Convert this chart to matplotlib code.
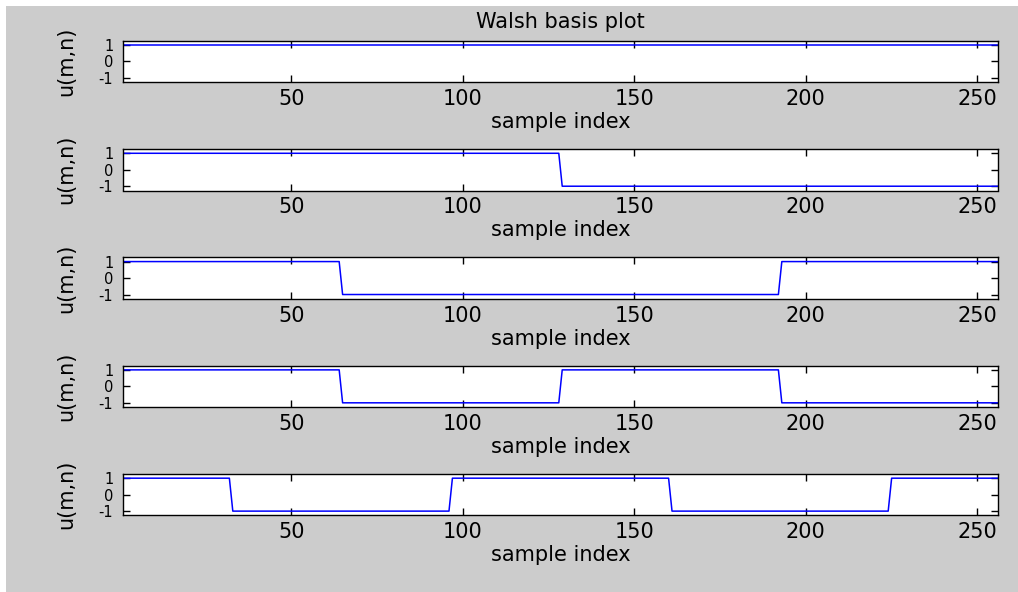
import matplotlib
matplotlib.use("Agg")
import matplotlib.pyplot as plt
import numpy as np
from matplotlib.patches import Rectangle

# Walsh basis rows: sign of each block of 32 samples (256 samples total)
samples_per_block = 32
row1_blocks = [1, 1, 1, 1, 1, 1, 1, 1]
row2_blocks = [1, 1, 1, 1, -1, -1, -1, -1]
row3_blocks = [1, 1, -1, -1, -1, -1, 1, 1]
row4_blocks = [1, 1, -1, -1, 1, 1, -1, -1]
row5_blocks = [1, -1, -1, 1, 1, -1, -1, 1]
rows = [row1_blocks, row2_blocks, row3_blocks, row4_blocks, row5_blocks]

x_ticks = [50, 100, 150, 200, 250]
y_ticks = [-1, 0, 1]

plt.rcParams["font.family"] = ["DejaVu Sans"]
plt.rcParams["axes.unicode_minus"] = False
fs = 15

W, H = 1018, 592
fig = plt.figure(figsize=(W / 100, H / 100), dpi=100, facecolor="white")
fig.patches.append(Rectangle((6 / W, 0), 1 - 6 / W, 1 - 6 / H, transform=fig.transFigure,
                             facecolor="#cccccc", edgecolor="none", zorder=-10))

left, right = 123, 998
top0, ax_h, step = 40.7, 41.5, 108.3

n = np.arange(1, 257)
for i, blocks in enumerate(rows):
    top = top0 + i * step
    ax = fig.add_axes([left / W, 1 - (top + ax_h) / H, (right - left) / W, ax_h / H])
    ax.set_facecolor("white")
    vals = np.repeat(blocks, samples_per_block)
    ax.plot(n, vals, color="#0000ff", lw=1.1)
    ax.set_xlim(1, 256)
    ax.set_ylim(-1.26, 1.26)
    ax.set_xticks(x_ticks)
    ax.set_yticks(y_ticks)
    ax.tick_params(direction="in", top=True, right=True, length=5, width=1)
    ax.tick_params(axis="x", pad=5, labelsize=fs)
    ax.tick_params(axis="y", pad=7, labelsize=10.5)
    for s in ax.spines.values():
        s.set_linewidth(1.0)
    ax.set_xlabel("sample index", fontsize=fs, labelpad=2)
    ax.set_ylabel("u(m,n)", fontsize=fs, labelpad=16)
    if i == 0:
        ax.set_title("Walsh basis plot", fontsize=fs, pad=9)

fig.savefig("out.png", dpi=100, facecolor="white")
